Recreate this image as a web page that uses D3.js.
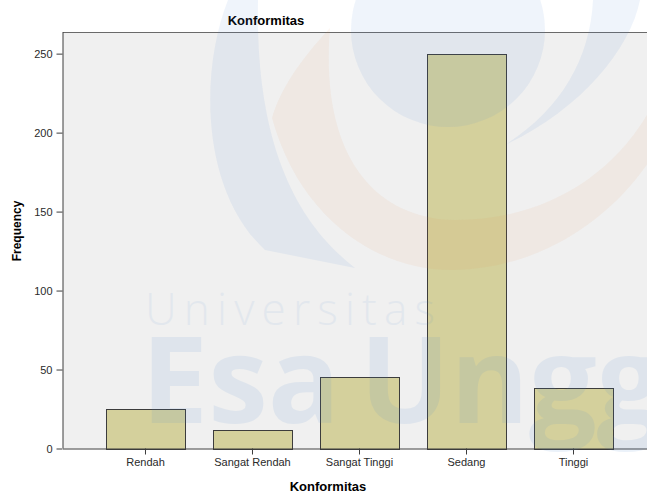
<!DOCTYPE html>
<html>
<head>
<meta charset="utf-8">
<script src="https://cdn.jsdelivr.net/npm/d3@7"></script>
<style>
  body { margin: 0; background: #fff; }
  svg { display: block; }
</style>
</head>
<body>
<div id="chart"></div>
<script>
// data
const categories = ["Rendah", "Sangat Rendah", "Sangat Tinggi", "Sedang", "Tinggi"];
const frequencies = [25, 12, 45, 250, 38];
const yTicks = [0, 50, 100, 150, 200, 250];

const width = 647, height = 495;
const plotLeft = 63, plotTop = 32, plotBottom = 448.5, plotRight = 656;

const svg = d3.select("#chart").append("svg")
    .attr("width", width)
    .attr("height", height);

const x = d3.scaleBand()
    .domain(categories)
    .range([plotLeft, plotRight])
    .paddingInner(0.262)
    .paddingOuter(0.402);

const y = d3.scaleLinear()
    .domain([0, 263.7])
    .range([plotBottom, plotTop]);

// plot background
svg.append("rect")
    .attr("x", plotLeft)
    .attr("y", plotTop)
    .attr("width", width - plotLeft)
    .attr("height", plotBottom - plotTop)
    .attr("fill", "#f0f0f0");

svg.append("line")
    .attr("x1", plotLeft).attr("x2", width)
    .attr("y1", plotTop + 0.5).attr("y2", plotTop + 0.5)
    .attr("stroke", "#6a6a6a");

// bars
svg.append("g").selectAll("rect")
    .data(categories)
    .join("rect")
    .attr("x", d => Math.round(x(d)) + 0.5)
    .attr("y", (d, i) => Math.round(y(frequencies[i])) + 0.5)
    .attr("width", Math.round(x.bandwidth()))
    .attr("height", (d, i) => Math.round(y(0)) - Math.round(y(frequencies[i])))
    .attr("fill", "#d4d09c")
    .attr("stroke", "#3c3c3c")
    .attr("stroke-width", 1);

// axes
const yAxis = svg.append("g")
    .attr("transform", `translate(${plotLeft - 0.5},0)`)
    .call(d3.axisLeft(y).tickValues(yTicks).tickSize(6).tickPadding(4));

const xAxis = svg.append("g")
    .attr("transform", `translate(0,${plotBottom})`)
    .call(d3.axisBottom(x).tickSize(6).tickPadding(4));

[yAxis, xAxis].forEach(g => {
    g.select(".domain").attr("stroke", "#3c3c3c");
    g.selectAll(".tick line").attr("stroke", "#3c3c3c");
    g.selectAll(".tick text")
        .attr("fill", "#2a2a2a")
        .style("font-family", "'Liberation Sans', Arial, sans-serif")
        .style("font-size", "11px");
});
xAxis.select(".domain").attr("d", `M${plotLeft},0.5H${width}`);
yAxis.select(".domain").attr("d", `M0.5,${plotTop}V${plotBottom}`);

// titles
svg.append("text")
    .attr("x", 266)
    .attr("y", 25)
    .attr("text-anchor", "middle")
    .style("font-family", "'Liberation Sans', Arial, sans-serif")
    .style("font-size", "13px")
    .style("font-weight", "bold")
    .text("Konformitas");

svg.append("text")
    .attr("x", 328)
    .attr("y", 491)
    .attr("text-anchor", "middle")
    .style("font-family", "'Liberation Sans', Arial, sans-serif")
    .style("font-size", "13px")
    .style("font-weight", "bold")
    .text("Konformitas");

svg.append("text")
    .attr("transform", "translate(21,231) rotate(-90)")
    .attr("text-anchor", "middle")
    .style("font-family", "'Liberation Sans', Arial, sans-serif")
    .style("font-size", "12px")
    .style("font-weight", "bold")
    .text("Frequency");

// watermark on top of everything
const wm = svg.append("g").style("pointer-events", "none");

wm.append("path")
    .attr("d", "M330 28 C300 60 280 90 272 118 C300 220 380 272 455 270 C540 268 610 220 650 160 L650 110 C610 180 540 220 455 220 C370 218 320 150 330 28 Z")
    .attr("fill", "#e8864e")
    .attr("opacity", 0.08);

wm.append("path")
    .attr("d", "M228 0 C200 70 200 190 265 250 L355 268 C300 225 255 150 258 0 Z")
    .attr("fill", "#4a86d0")
    .attr("opacity", 0.09);

wm.append("circle")
    .attr("cx", 448).attr("cy", 30).attr("r", 97)
    .attr("fill", "#4a86d0")
    .attr("opacity", 0.09);

wm.append("path")
    .attr("d", "M593 0 C590 60 560 110 505 145 C580 110 630 50 640 0 Z")
    .attr("fill", "#4a86d0")
    .attr("opacity", 0.09);

wm.append("text")
    .attr("x", 145)
    .attr("y", 325)
    .attr("textLength", 290)
    .attr("lengthAdjust", "spacing")
    .style("font-family", "'Open Sans', sans-serif")
    .style("font-weight", 300)
    .style("font-size", "44px")
    .attr("fill", "#4a86d0")
    .attr("opacity", 0.08)
    .text("Universitas");

wm.append("text")
    .attr("x", 141)
    .attr("y", 423)
    .style("font-family", "'Open Sans', sans-serif")
    .style("font-weight", 700)
    .style("font-size", "120px")
    .style("word-spacing", "-12px")
    .attr("fill", "#4a86d0")
    .attr("opacity", 0.1)
    .text("Esa Unggul");
</script>
</body>
</html>
